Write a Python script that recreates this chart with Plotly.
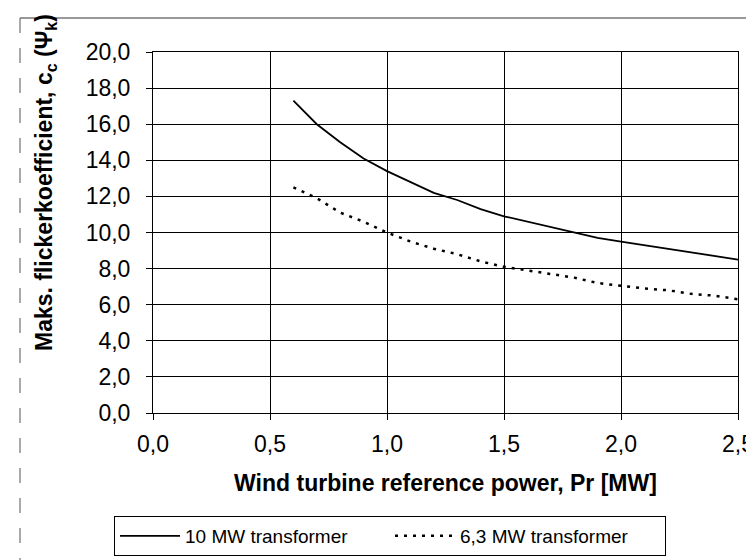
import plotly.graph_objects as go

# reference power Pr [MW]
power = [0.6, 0.7, 0.8, 0.9, 1.0, 1.1, 1.2, 1.3, 1.4, 1.5,
         1.6, 1.7, 1.8, 1.9, 2.0, 2.1, 2.2, 2.3, 2.4, 2.5]
# max flicker coefficient
cc_10mw = [17.3, 16.0, 15.0, 14.1, 13.4, 12.8, 12.2, 11.8, 11.3, 10.9,
           10.6, 10.3, 10.0, 9.7, 9.5, 9.3, 9.1, 8.9, 8.7, 8.5]
cc_63mw = [12.5, 11.9, 11.1, 10.6, 10.0, 9.5, 9.1, 8.8, 8.4, 8.1,
           7.9, 7.7, 7.5, 7.2, 7.05, 6.9, 6.8, 6.6, 6.5, 6.3]
series_names = ["10 MW transformer", "6,3 MW transformer"]

W, H = 754, 560
L, R, T, B = 145, 24, 44, 155
pw, ph = W - L - R, H - T - B


def px_x(p):
    return (p - L) / pw


def px_y(p):
    return (H - B - p) / ph


FONT = "Liberation Sans, Arial, sans-serif"

fig = go.Figure()
fig.add_trace(go.Scatter(x=power, y=cc_10mw, mode="lines", name=series_names[0],
                         line=dict(color="black", width=1.8)))
fig.add_trace(go.Scatter(x=power, y=cc_63mw, mode="lines", name=series_names[1],
                         line=dict(color="black", width=2.5, dash="3px,6px")))

axis_common = dict(
    showline=True, linecolor="black", linewidth=1, mirror=True,
    showgrid=True, gridcolor="black", gridwidth=1,
    ticks="outside", ticklen=6, tickcolor="black", tickwidth=1,
    tickfont=dict(family=FONT, size=23, color="black"),
    zeroline=False, tickformat=".1f",
)

fig.update_xaxes(range=[0, 2.5], dtick=0.5, tick0=0, ticklabelstandoff=4,
                 title=dict(text="<b>Wind turbine reference power, Pr [MW]</b>",
                            font=dict(family=FONT, size=23, color="black"),
                            standoff=19),
                 **axis_common)
fig.update_yaxes(range=[0, 20], dtick=2, tick0=0, ticklabelstandoff=11,
                 **axis_common)

# y title sits higher than the plot centre, so it is placed as an annotation
fig.add_annotation(
    text="<b>Maks. flickerkoefficient, c<sub>c</sub> (Ψ<sub>k</sub>)</b>",
    xref="paper", yref="paper", x=px_x(37), y=px_y(175),
    xanchor="center", yanchor="middle", textangle=-90, showarrow=False,
    font=dict(family=FONT, size=23, color="black"),
)

# scanned page frame
fig.add_shape(type="line", xref="paper", yref="paper",
              x0=px_x(12), x1=px_x(752), y0=px_y(10), y1=px_y(10),
              line=dict(color="#333333", width=1))
fig.add_shape(type="line", xref="paper", yref="paper",
              x0=px_x(12), x1=px_x(12), y0=px_y(10), y1=px_y(560),
              line=dict(color="#555555", width=1, dash="longdash"))

fig.update_layout(
    width=W, height=H,
    margin=dict(l=L, r=R, t=T, b=B, autoexpand=False),
    paper_bgcolor="white", plot_bgcolor="white",
    separators=", ",
    font=dict(family=FONT, color="black"),
    showlegend=True,
    legend=dict(orientation="h", x=px_x(106), y=px_y(508),
                xanchor="left", yanchor="top",
                bordercolor="black", borderwidth=1, bgcolor="white",
                font=dict(family=FONT, size=19, color="black"),
                itemwidth=60, entrywidth=200, tracegroupgap=0),
)

fig.write_html("out.html")
